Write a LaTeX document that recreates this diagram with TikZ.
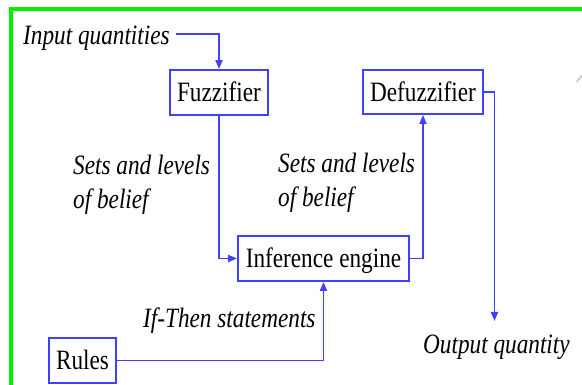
\documentclass[tikz,border=0pt]{standalone}
\usepackage{fontspec}
\setmainfont[FakeStretch=0.83]{Liberation Serif}
\usetikzlibrary{arrows.meta}
\definecolor{lineblue}{RGB}{64,64,255}
\definecolor{framegreen}{RGB}{0,240,0}
\tikzset{
  box/.style={draw=lineblue, line width=1.9pt, fill=white, inner sep=0pt,
    text height=20pt, text depth=1pt, font=\fontsize{28}{34}\selectfont},
  lbl/.style={inner sep=0pt, align=left, font=\fontsize{28}{34}\selectfont\itshape},
  conn/.style={draw=lineblue, line width=1.9pt, -{Triangle[length=9pt,width=7pt]}}
}
\begin{document}
\begin{tikzpicture}[x=1pt,y=-1pt]
\useasboundingbox (0,0) rectangle (582,385);
\fill[white] (0,0) rectangle (582,385);
% frame
\draw[framegreen, line width=3.5pt] (582,9) -- (11,9) -- (11,385);
\draw[gray!45, line width=1.5pt] (576.5,82) -- (582,75.5);
% boxes
\node[box, minimum width=98pt, minimum height=45pt] (fuzz) at (219,92.5) {Fuzzifier};
\node[box, minimum width=120pt, minimum height=44pt] (defuzz) at (423,92) {Defuzzifier};
\node[box, minimum width=171pt, minimum height=45pt] (inf) at (323.5,258.5) {Inference engine};
\node[box, minimum width=67pt, minimum height=45pt] (rules) at (82.5,360.5) {Rules};
% labels
\node[lbl, anchor=base west, text height=22pt, text depth=0pt] (inq) at (23,45) {Input quantities};
\node[lbl, anchor=north west] (setsl) at (73,155) {Sets and levels\\of belief};
\node[lbl, anchor=north west] (setsr) at (278,153) {Sets and levels\\of belief};
\node[lbl, anchor=base west] (ifthen) at (143,328) {If-Then statements};
\node[lbl, anchor=base west] (outq) at (423,353) {Output quantity};
\coordinate (outp) at (494.5,321);
% connectors
\draw[conn] ([xshift=6pt]inq.east) -| (fuzz.north);
\draw[conn] (fuzz.south) |- (inf.west);
\draw[conn] (inf.east) -| (defuzz.south);
\draw[conn] (defuzz.east) -| (outp);
\draw[conn] (rules.east) -| (inf.south);
\end{tikzpicture}
\end{document}
